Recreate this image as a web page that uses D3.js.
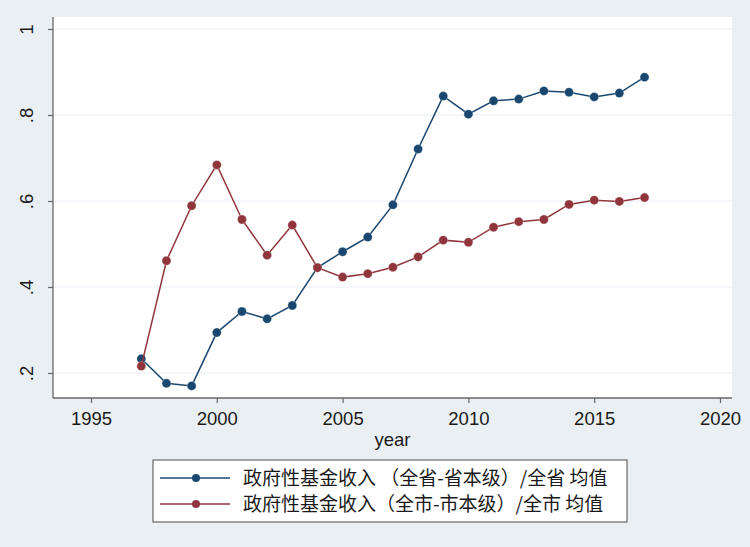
<!DOCTYPE html>
<html><head><meta charset="utf-8">
<script src="https://cdn.jsdelivr.net/npm/d3@7"></script>
<style>html,body{margin:0;padding:0;background:#eaeff3;}svg{display:block;}</style>
</head><body>
<svg id="c" width="750" height="547"></svg>
<script>
const years = [1997,1998,1999,2000,2001,2002,2003,2004,2005,2006,2007,2008,2009,2010,2011,2012,2013,2014,2015,2016,2017];
const provinceSeries = [0.233,0.176,0.170,0.294,0.343,0.326,0.357,0.445,0.482,0.516,0.591,0.721,0.844,0.802,0.833,0.837,0.856,0.853,0.842,0.851,0.888];
const citySeries = [0.216,0.461,0.589,0.684,0.557,0.474,0.544,0.445,0.423,0.431,0.446,0.470,0.509,0.504,0.539,0.552,0.557,0.592,0.602,0.599,0.608];
const xTicks = [1995,2000,2005,2010,2015,2020];
const yTicks = [0.2,0.4,0.6,0.8,1];
const yTickLabels = [".2",".4",".6",".8","1"];
const seriesNames = ["政府性基金收入 （全省-省本级）/全省 均值","政府性基金收入（全市-市本级）/全市 均值"];
const seriesColors = ["#1a476f","#90353b"];

const svg = d3.select("#c");
const font = "'Liberation Sans', Arial, Helvetica, sans-serif";
const plot = {left:53, right:732, top:17, bottom:398};
const x = d3.scaleLinear().domain([1995,2020]).range([91,720]);
const y = d3.scaleLinear().domain([0.2,1]).range([373,29]);

svg.append("rect").attr("width",750).attr("height",547).attr("fill","#eaeff3");
svg.append("rect").attr("x",plot.left).attr("y",plot.top).attr("width",plot.right-plot.left).attr("height",plot.bottom-plot.top).attr("fill","#ffffff");

// gridlines
svg.append("g").selectAll("line").data(yTicks).join("line")
  .attr("x1",plot.left).attr("x2",plot.right)
  .attr("y1",d=>y(d)).attr("y2",d=>y(d))
  .attr("stroke","#eaf0f3").attr("stroke-width",1.2);

// axes
const gx = svg.append("g").attr("transform",`translate(0,${plot.bottom})`)
  .call(d3.axisBottom(x).tickValues(xTicks).tickFormat(d3.format("d")).tickSize(5).tickSizeOuter(0).tickPadding(4));
gx.select(".domain").attr("d",`M${plot.left},0H${plot.right}`);
const gy = svg.append("g").attr("transform",`translate(${plot.left},0)`)
  .call(d3.axisLeft(y).tickValues(yTicks).tickFormat((d,i)=>yTickLabels[i]).tickSize(5).tickSizeOuter(0));
gy.select(".domain").attr("d",`M0,${plot.top}V${plot.bottom}`);
[gx,gy].forEach(g=>{
  g.select(".domain").attr("stroke","#666").attr("stroke-width",1.3);
  g.selectAll(".tick line").attr("stroke","#666").attr("stroke-width",1.2);
  g.selectAll(".tick text").attr("fill","#1a1a1a").style("font-family",font).style("font-size","18.5px");
});
gx.selectAll(".tick text").attr("dy","0.95em");
gy.selectAll(".tick text")
  .attr("text-anchor","middle")
  .each(function(d){
    d3.select(this).attr("dy",null)
      .attr("transform",`translate(-20,0) rotate(-90)`)
      .attr("y",0).attr("x",0);
  });

svg.append("text").attr("x",(plot.left+plot.right)/2).attr("y",446)
  .attr("text-anchor","middle").attr("fill","#1a1a1a")
  .style("font-family",font).style("font-size","18.5px").text("year");

// series
const series = [provinceSeries, citySeries];
const line = d3.line().x((d,i)=>x(years[i])).y(d=>y(d));
series.forEach((s,k)=>{
  const g = svg.append("g");
  g.append("path").datum(s).attr("d",line).attr("fill","none")
    .attr("stroke",seriesColors[k]).attr("stroke-width",1.5);
  g.selectAll("circle").data(s).join("circle")
    .attr("cx",(d,i)=>x(years[i])).attr("cy",d=>y(d)).attr("r",4.5)
    .attr("fill",seriesColors[k]).attr("stroke","#ffffff").attr("stroke-opacity",0.35).attr("stroke-width",0.8);
});

// legend
const lg = svg.append("g");
lg.append("rect").attr("x",153).attr("y",460).attr("width",474).attr("height",62)
  .attr("fill","#ffffff").attr("stroke","#666").attr("stroke-width",1.2);
seriesNames.forEach((n,k)=>{
  const yy = 478 + k*26;
  lg.append("line").attr("x1",160).attr("x2",230).attr("y1",yy).attr("y2",yy)
    .attr("stroke",seriesColors[k]).attr("stroke-width",1.5);
  lg.append("circle").attr("cx",196).attr("cy",yy).attr("r",4).attr("fill",seriesColors[k]);
  lg.append("text").attr("x",243).attr("y",yy).attr("dy","0.36em")
    .attr("fill","#1a1a1a").style("font-family","'Noto Sans CJK SC', sans-serif").style("font-size","19px").text(n);
});
</script>
</body></html>
